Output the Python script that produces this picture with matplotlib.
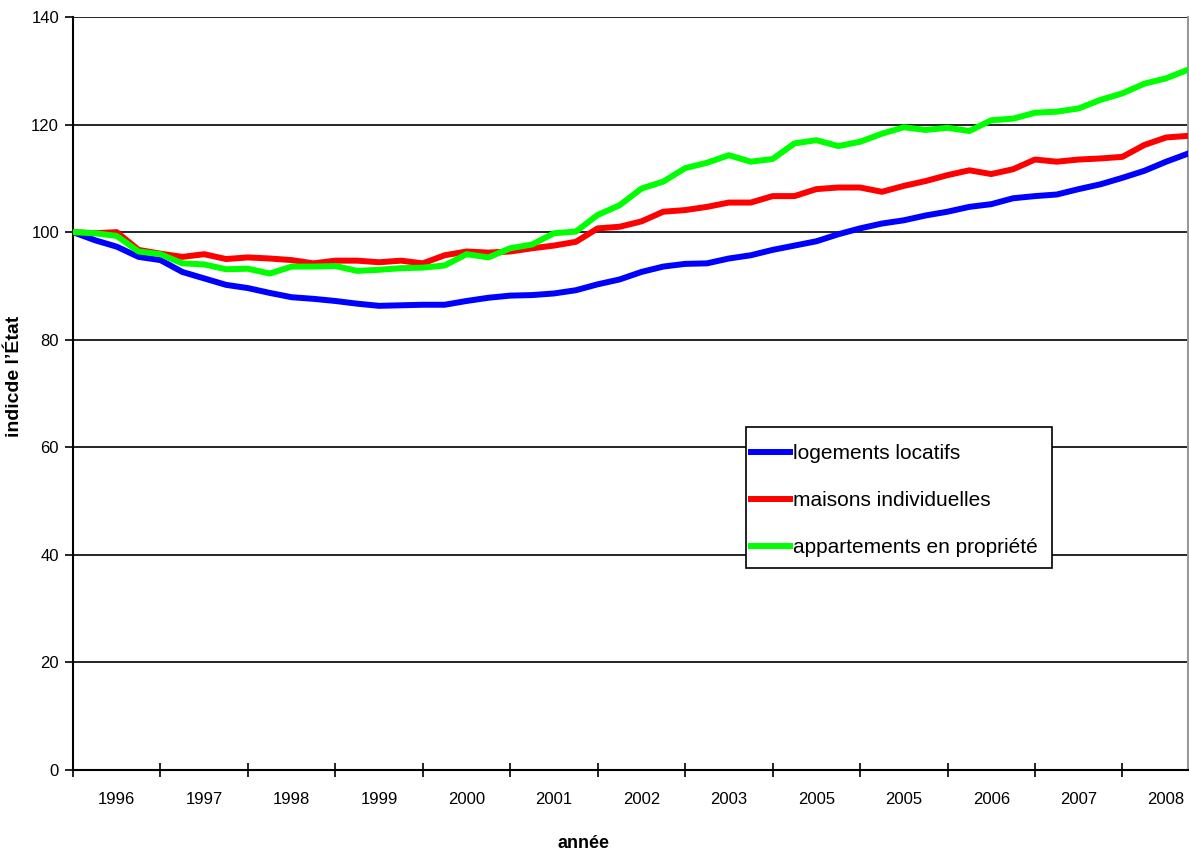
import matplotlib.pyplot as plt
from matplotlib.patches import Rectangle
import numpy as np

plt.rcParams['font.family'] = ['Liberation Sans', 'DejaVu Sans']

# quarterly index values, base 100 at the start of 1996
logements_locatifs = [
    100.0, 98.5, 97.3, 95.4, 94.8, 92.6, 91.4, 90.2, 89.6, 88.7, 87.9, 87.6, 87.2,
    86.7, 86.3, 86.4, 86.5, 86.5, 87.2, 87.8, 88.2, 88.3, 88.6, 89.2, 90.3, 91.2,
    92.6, 93.6, 94.1, 94.2, 95.1, 95.7, 96.7, 97.5, 98.3, 99.6, 100.7, 101.6, 102.2,
    103.1, 103.8, 104.7, 105.2, 106.3, 106.7, 107.0, 108.0, 108.9, 110.1, 111.4, 113.1, 114.6,
]
maisons_individuelles = [
    100.0, 99.8, 100.0, 96.7, 96.0, 95.4, 95.9, 95.0, 95.3, 95.1, 94.8, 94.2, 94.7,
    94.7, 94.4, 94.7, 94.2, 95.7, 96.4, 96.2, 96.4, 97.0, 97.5, 98.2, 100.7, 101.0,
    102.0, 103.8, 104.1, 104.7, 105.5, 105.5, 106.7, 106.7, 108.0, 108.3, 108.3, 107.5, 108.6,
    109.5, 110.6, 111.5, 110.8, 111.7, 113.5, 113.1, 113.5, 113.7, 114.0, 116.2, 117.6, 117.9,
]
appartements = [
    100.0, 99.8, 99.3, 96.4, 95.9, 94.2, 94.0, 93.1, 93.2, 92.3, 93.6, 93.6, 93.7,
    92.8, 93.0, 93.3, 93.4, 93.8, 95.9, 95.3, 97.0, 97.7, 99.8, 100.1, 103.2, 105.0,
    108.1, 109.4, 111.9, 112.9, 114.3, 113.1, 113.6, 116.5, 117.1, 116.0, 116.8, 118.3, 119.5,
    119.0, 119.4, 118.8, 120.8, 121.1, 122.2, 122.4, 123.0, 124.6, 125.8, 127.6, 128.6, 130.2,
]
annees = ['1996', '1997', '1998', '1999', '2000', '2001', '2002',
          '2003', '2005', '2005', '2006', '2007', '2008']

series = [
    ('logements locatifs', logements_locatifs, '#0000ff'),
    ('maisons individuelles', maisons_individuelles, '#ff0000'),
    ('appartements en propriété', appartements, '#00ff00'),
]

W, H = 1189, 850
fig = plt.figure(figsize=(W / 100, H / 100), dpi=100)
ax = fig.add_axes([73 / W, 80 / H, 1115 / W, 753 / H])

x = np.arange(len(logements_locatifs))
for name, vals, col in series:
    ax.plot(x, vals, color=col, lw=4.3, label=name, solid_joinstyle='round', zorder=3)

ax.set_xlim(0, len(x) - 1)
ax.set_ylim(0, 140)
ax.set_yticks(np.arange(0, 141, 20))
ax.grid(axis='y', color='black', lw=1.2)
ax.set_axisbelow(True)

# year ticks every 4 quarters, labels centred between them
ax.set_xticks(np.arange(0, len(x), 4))
ax.set_xticklabels([])
ax.set_xticks(np.arange(2, len(x), 4), minor=True)
ax.set_xticklabels(annees, minor=True)
ax.tick_params(axis='x', which='major', direction='inout', length=10, width=1.2)
ax.tick_params(axis='x', which='minor', length=0, pad=16, labelsize=12)
ax.tick_params(axis='y', direction='out', length=6, width=1.2, labelsize=12, pad=4)

ax.spines['top'].set_visible(False)
ax.spines['left'].set_linewidth(1.5)
ax.spines['bottom'].set_linewidth(1.5)
ax.spines['right'].set_color('#999999')
ax.spines['right'].set_linewidth(1.5)

ax.set_ylabel('indicde l’État', fontsize=14, fontweight='bold')
ax.yaxis.set_label_coords((15 - 73) / 1115, (770 - 376) / 753)
ax.yaxis.label.set_va('center')
ax.set_xlabel('année', fontsize=13, fontweight='bold')
ax.xaxis.set_label_coords((584 - 73) / 1115, (770 - 843) / 753)
ax.xaxis.label.set_va('center')

# legend box drawn separately so the inner padding can be set freely
box = Rectangle((746 / W, 1 - 568 / H), 306 / W, 141 / H, transform=fig.transFigure,
                facecolor='white', edgecolor='black', lw=1.2, zorder=4)
ax.add_patch(box)
box.set_clip_on(False)
leg = ax.legend(loc='upper left', bbox_to_anchor=(749 / W, 1 - 442 / H),
                bbox_transform=fig.transFigure, fontsize=15, frameon=False,
                borderaxespad=0, borderpad=0.1, labelspacing=1.35,
                handlelength=1.85, handletextpad=0.15)
leg.set_zorder(5)

fig.savefig('out.png', dpi=100)
